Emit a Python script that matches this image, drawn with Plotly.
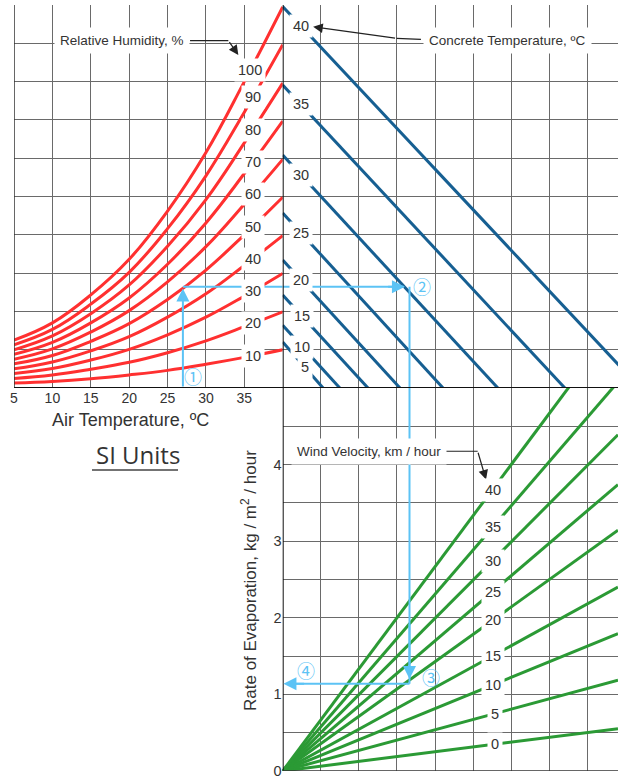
import numpy as np
import plotly.graph_objects as go

# ---------------- data ----------------
air_temp = [5, 10, 15, 20, 25, 30, 35, 40]
temp_ticks = [5, 10, 15, 20, 25, 30, 35, 40]
temp_tick_text = ["5", "10", "15", "20", "25", "30", "35", ""]

rh_levels = [100, 90, 80, 70, 60, 50, 40, 30, 20, 10]
rh_100 = [1.25, 1.70, 2.43, 3.36, 4.62, 6.15, 8.00, 9.95]
rh_90 = [1.13, 1.53, 2.19, 3.02, 4.16, 5.54, 7.20, 8.96]
rh_80 = [1.00, 1.36, 1.94, 2.69, 3.70, 4.92, 6.40, 7.96]
rh_70 = [0.88, 1.19, 1.70, 2.35, 3.23, 4.31, 5.60, 6.97]
rh_60 = [0.75, 1.02, 1.46, 2.02, 2.77, 3.69, 4.80, 5.97]
rh_50 = [0.63, 0.85, 1.22, 1.68, 2.31, 3.08, 4.00, 4.98]
rh_40 = [0.50, 0.68, 0.97, 1.34, 1.85, 2.46, 3.20, 3.98]
rh_30 = [0.38, 0.51, 0.73, 1.01, 1.39, 1.85, 2.40, 2.99]
rh_20 = [0.25, 0.34, 0.49, 0.67, 0.92, 1.23, 1.60, 1.99]
rh_10 = [0.13, 0.17, 0.24, 0.34, 0.46, 0.62, 0.80, 1.00]
rh_curves = [rh_100, rh_90, rh_80, rh_70, rh_60, rh_50, rh_40, rh_30, rh_20, rh_10]

concrete_temp = [40, 35, 30, 25, 20, 15, 10, 5]
concrete_vp_intercept = [9.96, 7.91, 6.08, 4.57, 3.34, 2.43, 1.64, 1.20]
concrete_x_intercept = [9.39, 7.41, 5.65, 4.21, 3.08, 2.24, 1.50, 1.06]

wind_speed = [0, 5, 10, 15, 20, 25, 30, 35, 40]
wind_ref_x = 8.805
wind_rate_at_ref = [0.553, 1.184, 1.794, 2.40, 3.143, 3.74, 4.39, 5.08, 5.87]

rate_ticks = [0, 1, 2, 3, 4]

ex_air_temp = 27.0
ex_vp = 2.645
ex_x = 3.33
ex_rate = 1.14

# ---------------- styling ----------------
RED = "#ff3030"
BLUE = "#165f92"
GREEN = "#2b9a35"
GUIDE = "#5cc3f5"
GRID = "#6a6a6a"
TXT = "#333333"
LAB = "Liberation Sans, Arial, sans-serif"
REG = "Liberation Sans, Arial, sans-serif"

W, H = 618, 777
ML, MR, MT, MB = 14, 0, 5, 6
PW, PH = W - ML - MR, H - MT - MB
DX = (282.7 - ML) / PW
X2_MAX = 8.805

fig = go.Figure()

# RH curves (top-left)
for rh, ys in zip(rh_levels, rh_curves):
    fig.add_trace(go.Scatter(x=air_temp, y=ys, mode="lines", xaxis="x", yaxis="y",
                             line=dict(color=RED, width=3, shape="spline", smoothing=1.2),
                             hoverinfo="skip", showlegend=False))

# Concrete temperature lines (top-right)
for tc, yi, xi in zip(concrete_temp, concrete_vp_intercept, concrete_x_intercept):
    fig.add_trace(go.Scatter(x=[0, xi], y=[yi, 0], mode="lines", xaxis="x2", yaxis="y",
                             line=dict(color=BLUE, width=3), hoverinfo="skip", showlegend=False))

# Wind velocity lines (bottom-right)
for v, r in zip(wind_speed, wind_rate_at_ref):
    fig.add_trace(go.Scatter(x=[0, wind_ref_x], y=[0, r], mode="lines", xaxis="x2", yaxis="y3",
                             line=dict(color=GREEN, width=3), hoverinfo="skip", showlegend=False))

# Example guide lines
fig.add_trace(go.Scatter(x=[ex_air_temp, 40], y=[ex_vp, ex_vp], mode="lines", xaxis="x", yaxis="y",
                         line=dict(color=GUIDE, width=2), hoverinfo="skip", showlegend=False))
fig.add_trace(go.Scatter(x=[0, ex_x - 0.15], y=[ex_vp, ex_vp], mode="lines", xaxis="x2", yaxis="y",
                         line=dict(color=GUIDE, width=2), hoverinfo="skip", showlegend=False))
fig.add_trace(go.Scatter(x=[ex_x, ex_x], y=[ex_vp, 0], mode="lines", xaxis="x2", yaxis="y",
                         line=dict(color=GUIDE, width=2), hoverinfo="skip", showlegend=False))
fig.add_trace(go.Scatter(x=[ex_x, ex_x], y=[5, ex_rate], mode="lines", xaxis="x2", yaxis="y3",
                         line=dict(color=GUIDE, width=2), hoverinfo="skip", showlegend=False))
fig.add_trace(go.Scatter(x=[ex_x, 0.2], y=[ex_rate, ex_rate], mode="lines", xaxis="x2", yaxis="y3",
                         line=dict(color=GUIDE, width=2), hoverinfo="skip", showlegend=False))

ann = []


def arrow(xref, yref, x, y, ax, ay, color, width=2, head=2, size=1.3):
    ann.append(dict(xref=xref, yref=yref, axref=xref, ayref=yref, x=x, y=y, ax=ax, ay=ay,
                    text="", showarrow=True, arrowhead=head, arrowsize=size, arrowwidth=width,
                    arrowcolor=color, standoff=0, startstandoff=0))


# guide arrowheads
arrow("x", "y", ex_air_temp, ex_vp - 0.05, ex_air_temp, 0.0, GUIDE)
arrow("x2", "y", ex_x - 0.12, ex_vp, ex_x - 0.6, ex_vp, GUIDE)
arrow("x2", "y3", ex_x, ex_rate + 0.06, ex_x, ex_rate + 0.8, GUIDE)
arrow("x2", "y3", 0.02, ex_rate, 0.6, ex_rate, GUIDE)

# leader arrows (black)
arrow("x", "y", 34.22, 8.695, 32.92, 9.068, "#222", width=1.2, head=2, size=1.6)
arrow("x2", "y", 0.80, 9.43, 2.99, 9.13, "#222", width=1.2, head=2, size=1.6)
arrow("x2", "y3", 5.34, 3.804, 5.12, 4.174, "#222", width=1.2, head=2, size=1.6)

# circled step numbers
for txt, xr, yr, x, y in [("\u2460", "x", "y", 28.33, 0.31), ("\u2461", "x2", "y", 3.65, 2.66),
                          ("\u2462", "x2", "y3", 3.89, 1.227), ("\u2463", "x2", "y3", 0.61, 1.324)]:
    ann.append(dict(xref=xr, yref=yr, x=x, y=y, text=txt, showarrow=False,
                    xanchor="center", yanchor="middle",
                    font=dict(family="Noto Sans CJK JP", size=18, color=GUIDE)))

# RH curve labels
for rh, ys in zip(rh_levels, rh_curves):
    lx = 35.8 if rh == 100 else 36.1
    ly = float(np.interp(lx, air_temp, ys))
    ann.append(dict(xref="x", yref="y", x=lx, y=ly, text=str(rh), showarrow=False,
                    xanchor="center", yanchor="middle", bgcolor="white", borderpad=3,
                    font=dict(family=LAB, size=14.5, color=TXT)))

# concrete labels
for tc, yi, xi in zip(concrete_temp, concrete_vp_intercept, concrete_x_intercept):
    lx = 0.47 if tc >= 20 else (0.515 if tc >= 10 else 0.58)
    ly = yi * (1 - lx / xi)
    ann.append(dict(xref="x2", yref="y", x=lx, y=ly, text=str(tc), showarrow=False,
                    xanchor="center", yanchor="middle", bgcolor="white", borderpad=3,
                    font=dict(family=LAB, size=14.5, color=TXT)))

# wind labels
for v, r in zip(wind_speed, wind_rate_at_ref):
    lx = 5.51 if v >= 10 else 5.57
    ly = r * lx / wind_ref_x
    ann.append(dict(xref="x2", yref="y3", x=lx, y=ly, text=str(v), showarrow=False,
                    xanchor="center", yanchor="middle", bgcolor="white", borderpad=3,
                    font=dict(family=LAB, size=14.5, color=TXT)))


def px2paper(px, py):
    return (px - ML) / PW, (H - MB - py) / PH


for txt, cx, cy in [("Relative Humidity, %", 122, 40.5),
                    ("Concrete Temperature, \u00baC", 507, 40.5),
                    ("Wind Velocity, km / hour", 369, 451.7)]:
    px_, py_ = px2paper(cx, cy)
    ann.append(dict(xref="paper", yref="paper", x=px_, y=py_, text=txt, showarrow=False,
                    xanchor="center", yanchor="middle", bgcolor="white", borderpad=5,
                    font=dict(family=LAB, size=13.5, color=TXT)))

px_, py_ = px2paper(130, 420)
ann.append(dict(xref="paper", yref="paper", x=px_, y=py_, text="Air Temperature, \u00baC",
                showarrow=False, xanchor="center", yanchor="middle",
                font=dict(family=REG, size=18, color=TXT)))
px_, py_ = px2paper(137.5, 454)
ann.append(dict(xref="paper", yref="paper", x=px_, y=py_, text="SI Units",
                showarrow=False, xanchor="center", yanchor="middle",
                font=dict(family="Open Sans", size=24, color=TXT)))
px_, py_ = px2paper(249, 581)
ann.append(dict(xref="paper", yref="paper", x=px_, y=py_,
                text="Rate of Evaporation, kg / m<sup>2</sup> / hour", textangle=-90,
                showarrow=False, xanchor="center", yanchor="middle",
                font=dict(family=REG, size=17, color=TXT)))

shapes = [
    dict(type="line", xref="x", yref="y", x0=5, x1=5, y0=0, y1=10, line=dict(color="#333", width=1.5)),
    dict(type="line", xref="x2", yref="paper", x0=0, x1=0, y0=0, y1=1, line=dict(color="#111", width=2)),
    dict(type="line", xref="paper", yref="y", x0=0, x1=1, y0=0, y1=0, line=dict(color="#111", width=2)),
    dict(type="line", xref="x2", yref="y3", x0=0, x1=X2_MAX, y0=0, y1=0, line=dict(color="#333", width=1.5)),
    dict(type="line", xref="x", yref="y", x0=27.93, x1=32.92, y0=9.068, y1=9.068, line=dict(color="#222", width=1.2)),
    dict(type="line", xref="x2", yref="y", x0=2.99, x1=3.63, y0=9.13, y1=9.10, line=dict(color="#222", width=1.2)),
    dict(type="line", xref="x2", yref="y3", x0=4.26, x1=5.12, y0=4.174, y1=4.174, line=dict(color="#222", width=1.2)),
]
u0 = px2paper(92, 470)
u1 = px2paper(178, 470)
shapes.append(dict(type="line", xref="paper", yref="paper", x0=u0[0], x1=u1[0], y0=u0[1], y1=u1[1],
                   line=dict(color="#444", width=1.5)))

axis_common = dict(showgrid=True, gridcolor=GRID, gridwidth=1, zeroline=False, showline=False,
                   ticks="", fixedrange=True, automargin=False, ticklabeloverflow="allow")

rate_vals = [i * 0.5 for i in range(11)]
rate_text = [str(int(v)) if (v in rate_ticks) else "" for v in rate_vals]

fig.update_layout(
    width=W, height=H, margin=dict(l=ML, r=MR, t=MT, b=MB, pad=0, autoexpand=False),
    paper_bgcolor="white", plot_bgcolor="white", showlegend=False,
    xaxis=dict(domain=[0, DX], range=[5, 40], tickvals=temp_ticks, ticktext=temp_tick_text,
               anchor="y", tickfont=dict(family=LAB, size=14, color=TXT), **axis_common),
    yaxis=dict(domain=[0.5, 1], range=[0, 10], tickvals=list(range(11)), showticklabels=False,
               anchor="x", **axis_common),
    xaxis2=dict(domain=[DX, 1], range=[0, X2_MAX], tickvals=list(range(9)), showticklabels=False,
                anchor="y3", **axis_common),
    yaxis3=dict(domain=[0, 0.5], range=[0, 5], tickvals=rate_vals, ticktext=rate_text,
                anchor="x2", tickfont=dict(family=LAB, size=14.5, color=TXT), **axis_common),
    annotations=ann, shapes=shapes,
)

fig.write_html("out.html", config={"displayModeBar": False},
               post_script="document.body.style.margin='0px';document.body.style.padding='0px';")
